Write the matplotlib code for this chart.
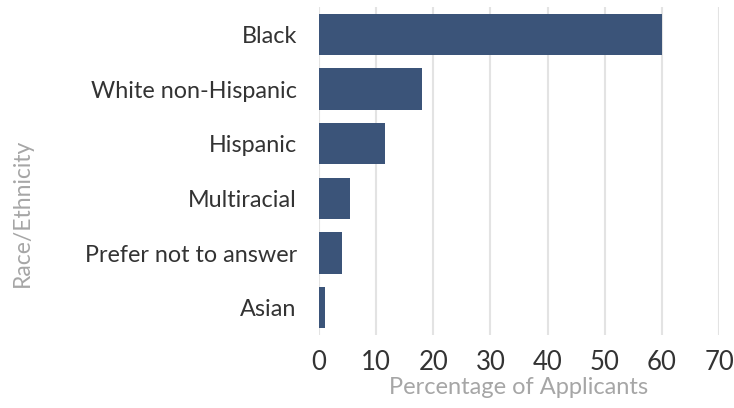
import matplotlib
matplotlib.use('Agg')
import matplotlib.pyplot as plt

groups = ['Black', 'White non-Hispanic', 'Hispanic', 'Multiracial',
          'Prefer not to answer', 'Asian']
pct = [60, 18, 11.5, 5.5, 4, 1]
xticks = [0, 10, 20, 30, 40, 50, 60, 70]

bar_color = '#3b5479'
plt.rcParams['font.family'] = ['Lato', 'DejaVu Sans']

fig = plt.figure(figsize=(7.34, 4.08), dpi=100)
ax = fig.add_axes([319/734, 1 - 335/408, 400/734, 328/408])

ypos = list(range(len(groups)))
ax.barh(ypos, pct, height=0.76, color=bar_color, zorder=3)
ax.set_ylim(len(groups) - 0.5, -0.5)
ax.set_xlim(0, 70)
ax.set_xticks(xticks)
ax.set_yticks(ypos)
ax.set_yticklabels(groups)

ax.grid(axis='x', color='#e3e3e3', linewidth=1.5, zorder=0)
for s in ax.spines.values():
    s.set_visible(False)
ax.tick_params(axis='y', length=0, pad=16, labelsize=16.8, labelcolor='#333333')
ax.tick_params(axis='x', length=0, pad=11, labelsize=18.5, labelcolor='#333333')

ax.set_xlabel('Percentage of Applicants', fontsize=17, color='#a6a6a6', labelpad=1)
fig.text(22/734, 1 - 213/408, 'Race/Ethnicity', rotation=90, fontsize=16.5,
         color='#a6a6a6', ha='center', va='center')

fig.savefig('out.png', dpi=100)
